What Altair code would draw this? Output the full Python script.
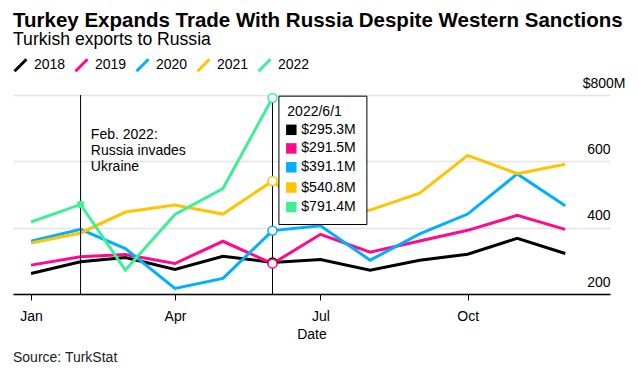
import altair as alt
import pandas as pd

# ---------------- data ----------------
months = ["2022-01-01", "2022-02-01", "2022-03-01", "2022-04-01", "2022-05-01", "2022-06-01",
          "2022-07-01", "2022-08-01", "2022-09-01", "2022-10-01", "2022-11-01", "2022-12-01"]
years = ["2018", "2019", "2020", "2021", "2022"]
colors = ["#000000", "#ff0a8c", "#00b0ff", "#ffc400", "#3fef98"]

v2018 = [262, 297, 310, 274, 314, 295.3, 304, 272, 302, 320, 368, 322]
v2019 = [287, 312, 319, 292, 359, 291.5, 380, 326, 360, 392, 437, 395]
v2020 = [359, 395, 337, 217, 247, 391.1, 406, 302, 381, 441, 562, 466]
v2021 = [354, 384, 447, 468, 441, 540.8, 430, 453, 504, 618, 563, 591]
v2022 = [417, 470, 272, 440, 518, 791.4]

y_ticks = [200, 400, 600, 800]
x_ticks = ["2022-01-01", "2022-04-01", "2022-07-01", "2022-10-01"]

invasion_date = "2022-02-01"
tooltip_date = "2022-06-01"
tooltip_label = "2022/6/1"
annotation = "Feb. 2022:\nRussia invades\nUkraine"
title_text = "Turkey Expands Trade With Russia Despite Western Sanctions"
subtitle_text = "Turkish exports to Russia"
source = "Source: TurkStat"

series = {"2018": v2018, "2019": v2019, "2020": v2020, "2021": v2021, "2022": v2022}


def ms(s):
    return int(pd.Timestamp(s, tz="UTC").value // 10**6)


rows = []
for yr in years:
    for m, v in zip(months, series[yr]):
        rows.append({"date": ms(m), "value": v, "year": yr})
df = pd.DataFrame(rows)

june = df[df["date"] == ms(tooltip_date)].copy()
feb22 = df[(df["date"] == ms(invasion_date)) & (df["year"] == "2022")].copy()

FONT = "Liberation Sans"
W, H = 597, 199

x_scale = alt.Scale(type="utc", domain=[ms("2021-12-20T18:00"), ms("2022-12-29T00:00")])
y_scale = alt.Scale(domain=[200, 800], nice=False, zero=False)
c_scale = alt.Scale(domain=years, range=colors)

X = alt.X("date:T", scale=x_scale,
          axis=alt.Axis(values=[ms(t) for t in x_ticks], format="%b", title="Date",
                        grid=False, tickSize=6, tickColor="#000", domainColor="#000",
                        domainWidth=1.3, labelFontSize=14, labelFont=FONT, labelColor="#000",
                        labelPadding=9, titleFont=FONT, titleFontSize=14,
                        titleFontWeight="normal", titleColor="#000", titlePadding=4))
Y = alt.Y("value:Q", scale=y_scale,
          axis=alt.Axis(orient="right", values=y_ticks, title=None, domain=False, ticks=False,
                        tickSize=0, grid=True, gridColor="#e4e4e4", gridWidth=1.5,
                        labelExpr="datum.value == 800 ? '$800M' : datum.label",
                        labelAlign="right", labelBaseline="alphabetic", labelOffset=-8,
                        labelPadding=alt.condition("datum.value == 800", alt.value(15), alt.value(0)),
                        labelFontSize=14, labelFont=FONT, labelColor="#000"))

lines = alt.Chart(df).mark_line(strokeWidth=3).encode(
    x=X, y=Y,
    color=alt.Color("year:N", scale=c_scale,
                    legend=alt.Legend(title=None, orient="none", legendX=0, legendY=-37.5,
                                      direction="horizontal",
                                      symbolType="M-1,1L1,-1", symbolSize=144,
                                      symbolStrokeWidth=3, labelFontSize=14, labelFont=FONT,
                                      labelColor="#000", labelOffset=6, columnPadding=3,
                                      padding=0)),
    detail="year:N",
)

rule_df = pd.DataFrame({"date": [ms(invasion_date), ms(tooltip_date)],
                        "y1": [800, 800], "y2": [200, 200]})
rules = alt.Chart(rule_df).mark_rule(color="#000", strokeWidth=1).encode(
    x="date:T", y="y1:Q", y2="y2:Q")

feb_pt = alt.Chart(feb22).mark_circle(size=55, opacity=1).encode(
    x="date:T", y="value:Q", color=alt.Color("year:N", scale=c_scale, legend=None))

june_pts = alt.Chart(june).mark_point(shape="circle", size=80, filled=False, fill="white",
                                      strokeWidth=1.5, opacity=1).encode(
    x="date:T", y="value:Q", stroke=alt.Stroke("year:N", scale=c_scale, legend=None))

ann_df = pd.DataFrame({"date": [ms("2022-02-07T10:00")], "value": [700], "text": [annotation]})
ann = alt.Chart(ann_df).mark_text(align="left", baseline="top", font=FONT, fontSize=14,
                                  lineHeight=16, lineBreak="\n", color="#000").encode(
    x="date:T", y="value:Q", text="text:N")

# tooltip-like box for 2022/6/1
box_df = pd.DataFrame({"x1": [ms("2022-06-05")], "x2": [ms("2022-07-30")],
                       "y1": [796.5], "y2": [409.5]})
box = alt.Chart(box_df).mark_rect(fill="white", stroke="#000", strokeWidth=1).encode(
    x="x1:T", x2="x2:T", y="y1:Q", y2="y2:Q")

head_df = pd.DataFrame({"date": [ms("2022-06-10T06:00")], "value": [736], "text": [tooltip_label]})
head = alt.Chart(head_df).mark_text(align="left", baseline="alphabetic", font=FONT,
                                    fontSize=14, color="#000").encode(
    x="date:T", y="value:Q", text="text:N")

row_levels = [695, 639, 582, 521, 462]
tip_rows = pd.DataFrame({
    "year": years,
    "label": ["$%.1fM" % june[june["year"] == yr]["value"].iloc[0] for yr in years],
    "level": row_levels,
    "sq": [ms("2022-06-12T18:00")] * 5,
    "tx": [ms("2022-06-19T00:00")] * 5,
})
squares = alt.Chart(tip_rows).mark_square(size=110, opacity=1).encode(
    x="sq:T", y="level:Q", color=alt.Color("year:N", scale=c_scale, legend=None))
tip_text = alt.Chart(tip_rows).mark_text(align="left", baseline="middle", font=FONT,
                                         fontSize=14, color="#000").encode(
    x="tx:T", y="level:Q", text="label:N")

# title, subtitle and source note (positioned relative to the plot area)
title = alt.Chart(pd.DataFrame({"t": [title_text]})).mark_text(
    align="left", baseline="alphabetic", font=FONT, fontSize=20.5, fontWeight="bold",
    color="#000").encode(x=alt.value(0), y=alt.value(-68.4), text="t:N")
subtitle = alt.Chart(pd.DataFrame({"t": [subtitle_text]})).mark_text(
    align="left", baseline="alphabetic", font=FONT, fontSize=17.6, color="#000").encode(
    x=alt.value(0), y=alt.value(-50.2), text="t:N")
src = alt.Chart(pd.DataFrame({"t": [source]})).mark_text(
    align="left", baseline="alphabetic", font=FONT, fontSize=14, color="#222").encode(
    x=alt.value(0), y=alt.value(H + 68.3), text="t:N")

chart = alt.layer(lines, rules, feb_pt, june_pts, ann, box, head, squares, tip_text,
                  title, subtitle, src).properties(
    width=W, height=H,
    autosize=alt.AutoSizeParams(type="none"),
    padding={"left": 5, "top": 87, "right": 18, "bottom": 76},
).resolve_scale(color="shared").configure_view(stroke=None)

chart.save("out.html", embed_options={"renderer": "svg", "actions": False})
